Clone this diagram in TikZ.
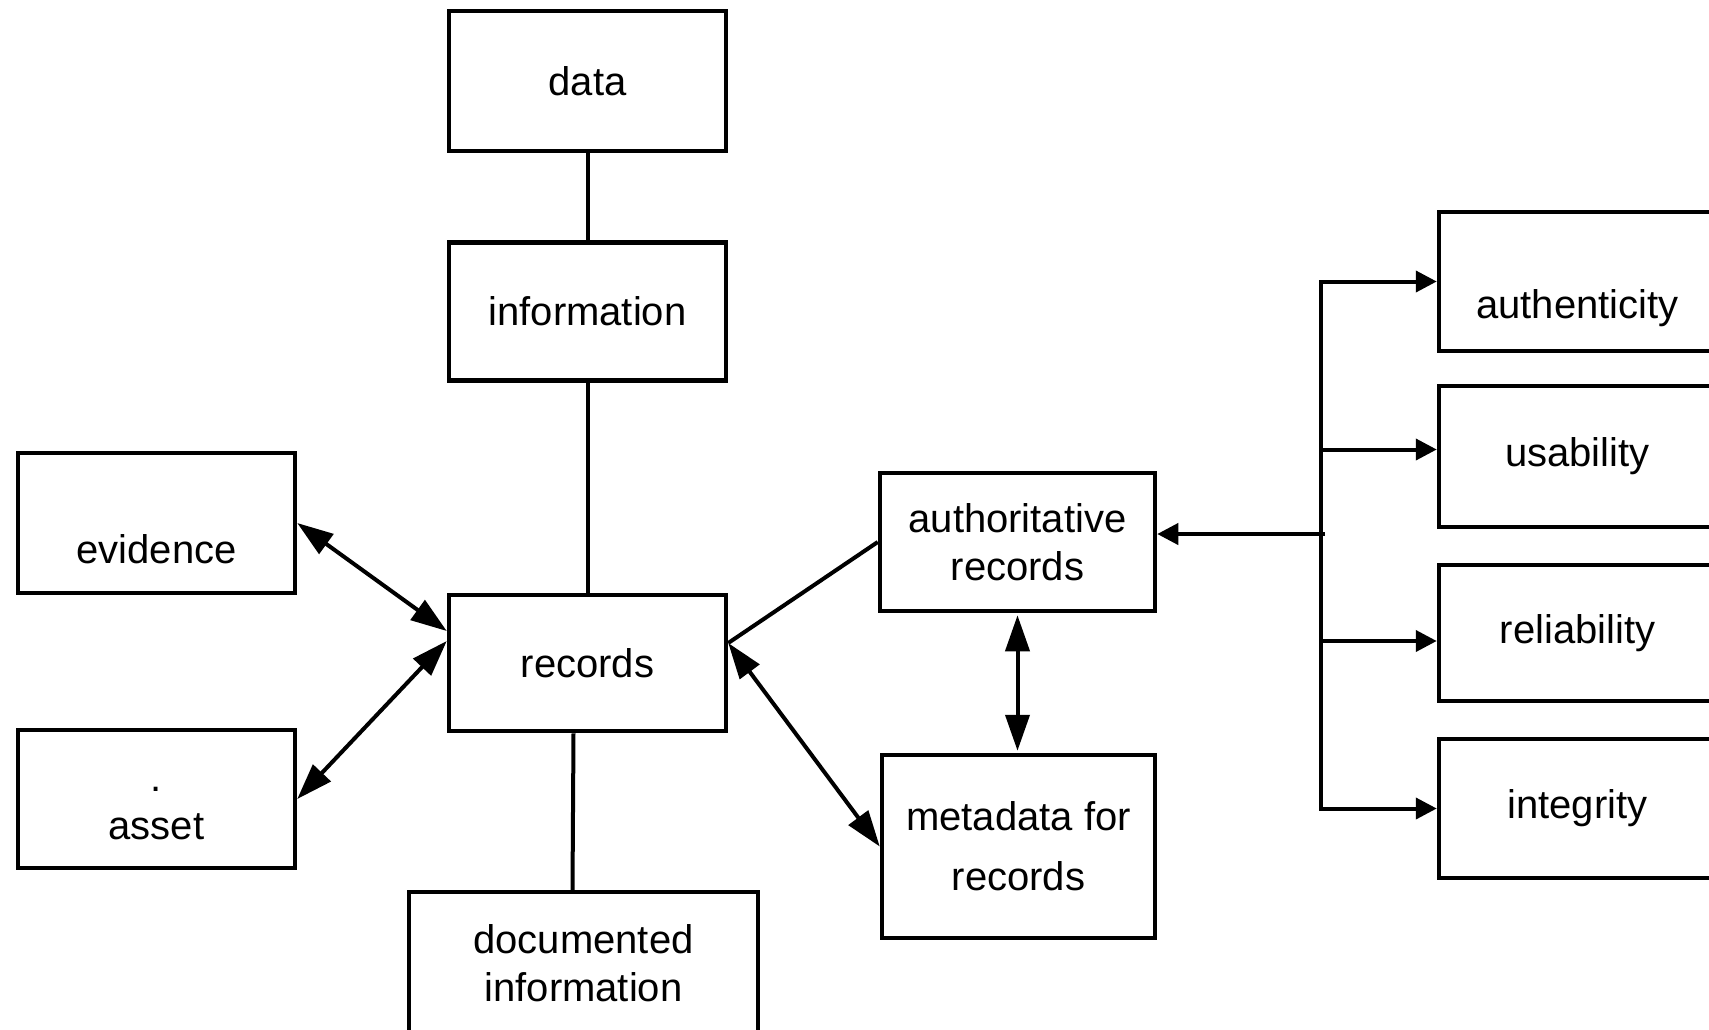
\documentclass[tikz,border=0pt]{standalone}
\usepackage{fontspec}
\setmainfont{Liberation Sans}
\usetikzlibrary{graphs, positioning, arrows.meta}

\tikzset{
    box/.style={draw, line width=4.5pt, minimum width=277pt, minimum height=138pt,
                align=center, font=\fontsize{40}{48}\selectfont},
    link/.style={line width=4pt},
    BigHead/.tip={Triangle[length=36pt, width=24pt]},
    SmallHead/.tip={Triangle[length=21pt, width=21pt]}
}

\begin{document}
\begin{tikzpicture}[x=1pt, y=-1pt]
    \useasboundingbox (0,0) rectangle (1709,1029);
    \clip (0,0) rectangle (1709,1029);

    % middle column
    \node[box, minimum height=140pt] at (587.5,81)   (Data)        {data};
    \node[box, below=87pt of Data]                   (Information) {information};
    \node[box, minimum height=136pt, below=210pt of Information] (Records) {records};
    \node[box, minimum width=349pt, minimum height=142pt] at (583.5,963) (Doc Info) {documented\\information};

    % left side
    \node[box, minimum height=140pt] at (156.5,523)  (Evidence)    {\strut\\evidence};
    \node[box] at (156.5,799)                        (Asset)       {\strut.\\asset};

    % right of records
    \node[box, minimum width=275pt] at (1017.5,542)  (Auth Records) {authoritative\\records};
    \node[box, minimum width=273pt, minimum height=183pt] at (1018.5,846.5) (Metadata) {metadata for\\[12pt]records};

    % qualities
    \node[box, minimum height=139pt] at (1577.5,281.5) (Authenticity) {\strut\\authenticity};
    \node[box, minimum height=141pt] at (1577.5,456.5) (Usability)    {usability};
    \node[box, minimum height=136pt] at (1577.5,633)   (Reliability)  {reliability};
    \node[box, minimum height=139pt] at (1577.5,808.5) (Integrity)    {integrity};

    \coordinate (Bus) at (1321,534);
    \coordinate (Usability In)   at ([yshift=7pt]Usability.west);
    \coordinate (Reliability In) at ([yshift=-8pt]Reliability.west);

    \graph[edges=link]{
        (Data) -- (Information) -- (Records);
    };
    \draw[link] ([xshift=-14pt]Records.south) -- ([xshift=-11pt]Doc Info.north);

    \draw[link, BigHead-BigHead] (Evidence.east) -- ([yshift=32pt]Records.west);
    \draw[link, BigHead-BigHead] (Asset.east) -- ([yshift=22pt]Records.west);
    \draw[link, BigHead-BigHead] ([yshift=20pt]Records.east) -- (Metadata.west);
    \draw[link] (Auth Records.west) -- ([yshift=20pt]Records.east);
    \draw[link, BigHead-BigHead, shorten <=2pt, shorten >=2pt] (Auth Records.south) -- (Auth Records.south |- Metadata.north);

    % bus to the qualities
    \draw[link, -SmallHead] ([xshift=4pt]Bus) -- (Bus -| Auth Records.east);
    \draw[link, SmallHead-SmallHead] (Authenticity.west) -| (Bus) |- (Integrity.west);
    \draw[link, -SmallHead] (Bus |- Usability In) -- (Usability In);
    \draw[link, -SmallHead] (Bus |- Reliability In) -- (Reliability In);
\end{tikzpicture}
\end{document}
